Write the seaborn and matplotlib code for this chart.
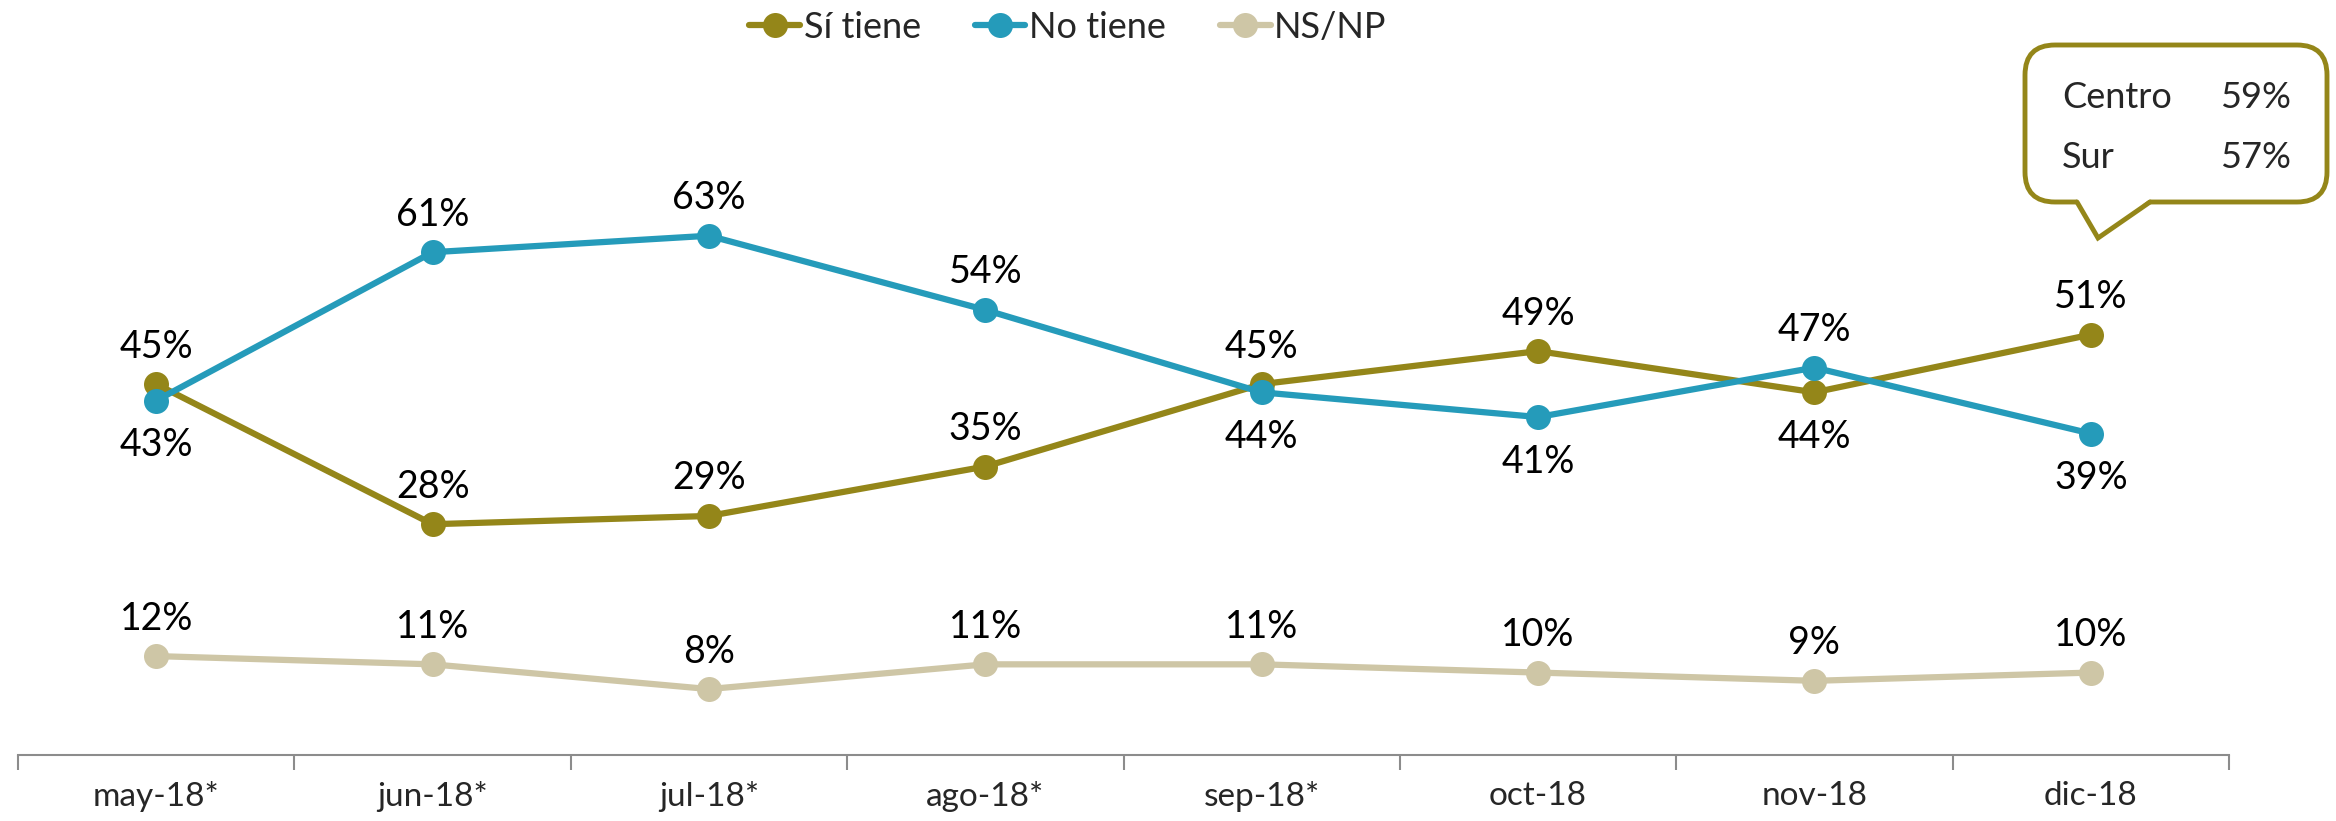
import matplotlib
matplotlib.use("Agg")
import matplotlib.pyplot as plt
import seaborn as sns
import pandas as pd
from matplotlib.patches import FancyBboxPatch, Polygon
from matplotlib.lines import Line2D

months = ["may-18*", "jun-18*", "jul-18*", "ago-18*", "sep-18*", "oct-18", "nov-18", "dic-18"]
si_tiene = [45, 28, 29, 35, 45, 49, 44, 51]
no_tiene = [43, 61, 63, 54, 44, 41, 47, 39]
ns_np = [12, 11, 8, 11, 11, 10, 9, 10]
series_names = ["Sí tiene", "No tiene", "NS/NP"]
colors = ["#948619", "#259BBA", "#CEC6A6"]
# label placement: +1 above, -1 below
si_pos = [1, 1, 1, 1, 1, 1, -1, 1]
no_pos = [-1, 1, 1, 1, -1, -1, 1, -1]
ns_pos = [1, 1, 1, 1, 1, 1, 1, 1]
callout_rows = [("Centro", "59%"), ("Sur", "57%")]

sns.set_style("white")
plt.rcParams["font.family"] = ["Lato", "DejaVu Sans"]

df = pd.DataFrame({
    "mes": months * 3,
    "valor": si_tiene + no_tiene + ns_np,
    "serie": [series_names[0]] * 8 + [series_names[1]] * 8 + [series_names[2]] * 8,
})

fig = plt.figure(figsize=(23.36, 8.21), dpi=100)
ax = fig.add_axes([18 / 2336, (821 - 755) / 821, (2229 - 18) / 2336, 755 / 821])

sns.lineplot(data=df, x="mes", y="valor", hue="serie", palette=colors,
             hue_order=series_names, marker="o", markersize=18, markeredgewidth=0,
             linewidth=4.5, sort=False, legend=False, ax=ax)

ax.set_xlim(-0.5, 7.5)
ax.set_ylim(0, 91.6)
ax.set_yticks([])
ax.set_xlabel("")
ax.set_ylabel("")
for s in ["top", "right", "left"]:
    ax.spines[s].set_visible(False)
ax.spines["bottom"].set_color("#8C8C8C")
ax.spines["bottom"].set_linewidth(1.5)
ax.set_xticks(range(8))
ax.set_xticklabels(months, fontsize=24)
ax.tick_params(axis="x", which="major", length=0, pad=19)
ax.set_xticks([i - 0.5 for i in range(9)], minor=True)
ax.tick_params(axis="x", which="minor", bottom=True, length=11, width=1.5,
               color="#8C8C8C", direction="out")

for vals, pos in [(si_tiene, si_pos), (no_tiene, no_pos), (ns_np, ns_pos)]:
    for i, (v, p) in enumerate(zip(vals, pos)):
        dy = 27 if p > 0 else -32
        ax.annotate(f"{v}%", (i, v), xytext=(0, dy), textcoords="offset points",
                    ha="center", va="center", fontsize=27, color="black")

handles = [Line2D([0], [0], color=c, lw=4.5, marker="o", markersize=18, markeredgewidth=0)
           for c in colors]
fig.legend(handles, series_names, loc="center", bbox_to_anchor=(1068 / 2336, 1 - 27 / 821),
           ncol=3, frameon=False, fontsize=26, handlelength=1.4, handletextpad=0.1,
           columnspacing=1.5)

# callout box (pixel coords -> inches)
def px(x, y):
    return (x / 100.0, (821 - y) / 100.0)

olive = colors[0]
bx0, by0, bx1, by1 = 2025, 45, 2327, 202
box = FancyBboxPatch(px(bx0, by1), (bx1 - bx0) / 100.0, (by1 - by0) / 100.0,
                     boxstyle="round,pad=0,rounding_size=0.3", transform=fig.dpi_scale_trans,
                     facecolor="white", edgecolor=olive, linewidth=3.5, zorder=5)
fig.patches.append(box)
tri = Polygon([px(2077, by1 - 3), px(2098, 238), px(2150, by1 - 3)], closed=False,
              transform=fig.dpi_scale_trans, facecolor="white", edgecolor="none", zorder=6)
fig.patches.append(tri)
fig.lines.append(Line2D([2077 / 100, 2098 / 100, 2150 / 100],
                        [(821 - by1) / 100, (821 - 238) / 100, (821 - by1) / 100],
                        transform=fig.dpi_scale_trans, color=olive, lw=3.5, zorder=7,
                        solid_joinstyle="miter"))
for k, (lab, val) in enumerate(callout_rows):
    yb = 108 + k * 60
    fig.text(2062 / 2336, 1 - yb / 821, lab, ha="left", va="baseline", fontsize=26, zorder=8)
    fig.text(2291 / 2336, 1 - yb / 821, val, ha="right", va="baseline", fontsize=26, zorder=8)

fig.savefig("out.png", dpi=100)
